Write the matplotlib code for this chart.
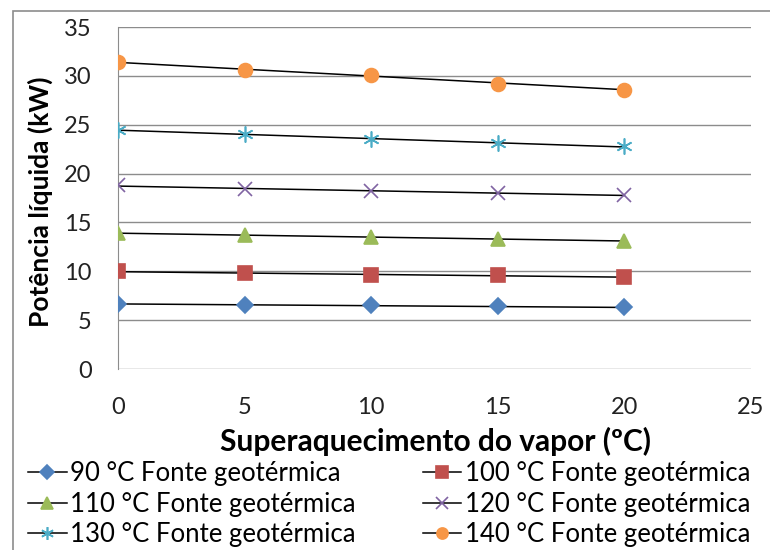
import numpy as np
import matplotlib
matplotlib.use("Agg")
import matplotlib.pyplot as plt
from matplotlib.patches import Rectangle

plt.rcParams['font.family'] = ['Lato', 'DejaVu Sans']

# superaquecimento do vapor (ºC)
superaq = [0, 5, 10, 15, 20]

pot_90 = [6.7, 6.5, 6.5, 6.4, 6.3]
pot_100 = [10.0, 9.8, 9.6, 9.6, 9.4]
pot_110 = [13.9, 13.7, 13.5, 13.3, 13.1]
pot_120 = [18.8, 18.4, 18.2, 18.0, 17.8]
pot_130 = [24.5, 24.0, 23.5, 23.1, 22.8]
pot_140 = [31.4, 30.6, 30.1, 29.2, 28.6]

series = [
    ("90 °C Fonte geotérmica", pot_90, "#4F81BD", "D", 8.5),
    ("100 °C Fonte geotérmica", pot_100, "#C0504D", "s", 10.5),
    ("110 °C Fonte geotérmica", pot_110, "#9BBB59", "^", 10.5),
    ("120 °C Fonte geotérmica", pot_120, "#8064A2", "x", 10),
    ("130 °C Fonte geotérmica", pot_130, "#4BACC6", (6, 2, 0), 11.5),
    ("140 °C Fonte geotérmica", pot_140, "#F79646", "o", 10),
]

fig = plt.figure(figsize=(7.7, 5.5), dpi=100)
ax = fig.add_axes([118 / 770, 1 - 369 / 550, (751 - 118) / 770, (369 - 27) / 550])

x = np.array(superaq)
for label, vals, color, mk, ms in series:
    # linha de tendência linear em preto + pontos coloridos
    coef = np.polyfit(x, vals, 1)
    ax.plot(x, np.polyval(coef, x), color="black", lw=1.1, zorder=2)
    ax.plot(x, vals, linestyle="none", marker=mk, ms=ms, color=color,
            mec=color, mew=1.2, zorder=3)
    # handle da legenda
    ax.plot([], [], color="black", lw=1.1, marker=mk, ms=ms * 0.8, mfc=color,
            mec=color, mew=1.2, label=label)

ax.set_xlim(0, 25)
ax.set_ylim(0, 35)
ax.set_xticks(range(0, 26, 5))
ax.set_yticks(range(0, 36, 5))
ax.yaxis.grid(True, color="#8c8c8c", lw=1.0)
ax.set_axisbelow(True)
for s in ["top", "right", "bottom"]:
    ax.spines[s].set_visible(False)
ax.spines["left"].set_color("#8c8c8c")
ax.tick_params(length=0, labelsize=17, colors="#222222")
ax.tick_params(axis="y", pad=19)
ax.tick_params(axis="x", pad=20)

fig.text(435 / 770, 1 - 441 / 550, "Superaquecimento do vapor (ºC)",
         ha="center", va="center", fontsize=21.5, fontweight="bold")
fig.text(40 / 770, 1 - 202 / 550, "Potência líquida (kW)", rotation=90,
         ha="center", va="center", fontsize=19, fontweight="bold")

handles, labels = ax.get_legend_handles_labels()
# ordem por linha: 90,100 / 110,120 / 130,140
order = [0, 2, 4, 1, 3, 5]
fig.legend([handles[i] for i in order], [labels[i] for i in order],
           ncol=2, loc="upper left", bbox_to_anchor=(28 / 770, 1 - 461 / 550),
           frameon=False, fontsize=18.5, handlelength=1.5, handletextpad=0.15,
           columnspacing=2.6, labelspacing=0.22, borderaxespad=0, borderpad=0)

fig.patches.append(Rectangle((13 / 770, -0.1), 1.0, 1 - 11 / 550 + 0.1,
                             transform=fig.transFigure, fill=False,
                             edgecolor="#8c8c8c", lw=1.2))

fig.savefig("out.png", dpi=100)
